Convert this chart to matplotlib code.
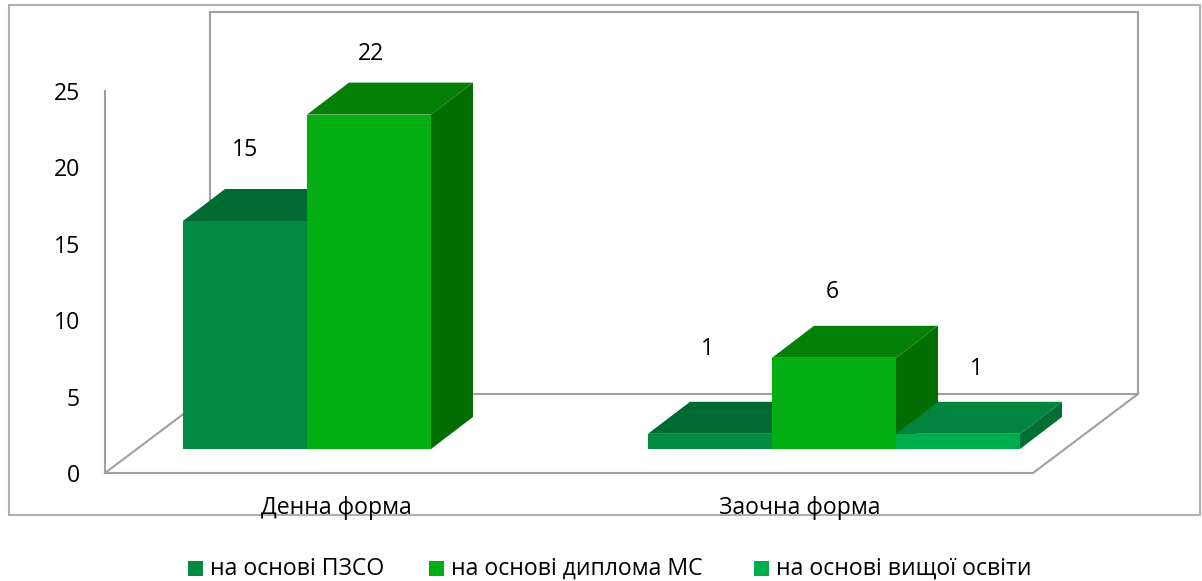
import matplotlib
matplotlib.use("Agg")
import matplotlib.pyplot as plt
from matplotlib.patches import Polygon, Rectangle

plt.rcParams['font.family'] = ['Open Sans', 'DejaVu Sans']

groups = ["Денна форма", "Заочна форма"]
series_names = ["на основі ПЗСО", "на основі диплома МС", "на основі вищої освіти"]
pzso = [15, 1]
dyplom = [22, 6]
vyshcha = [None, 1]
y_ticks = [0, 5, 10, 15, 20, 25]

front_colors = ["#028a40", "#03ae12", "#00ad4d"]
top_colors = ["#006a33", "#038005", "#00843e"]
side_colors = ["#005c2c", "#026d03", "#006f33"]
line_color = "#a0a0a0"

W, H = 1202, 581
# pixels of one category step / one value unit on the front plane
GROUP_PX = 465.0
UNIT_PX = 15.2
X0_PX = 369.0
BASE_PX = 449.0
BAR_W = 124.0 / GROUP_PX
DEPTH_X = 42.0 / GROUP_PX
DEPTH_Y = 32.0 / UNIT_PX
FONT = 16.6

fig = plt.figure(figsize=(W / 100, H / 100), dpi=100, facecolor="white")

# frame and walls are drawn in pixel coordinates
frame = fig.add_axes([0, 0, 1, 1], zorder=1)
frame.set_xlim(0, W)
frame.set_ylim(H, 0)
frame.axis("off")
frame.add_patch(Rectangle((9, 5), 1191, 510, fill=False, ec="#b0b0b0", lw=1.5))
frame.plot([105, 105, 1033, 1138, 1138, 210, 210], [91, 473, 473, 394, 12, 12, 394],
           color=line_color, lw=1.5, solid_joinstyle="miter")
frame.plot([105, 210, 1138], [473, 394, 394], color=line_color, lw=1.5)

# bars go through value / category scales
ax = fig.add_axes([0, 0, 1, 1], zorder=2)
ax.set_xlim(-X0_PX / GROUP_PX, (W - X0_PX) / GROUP_PX)
ax.set_ylim((BASE_PX - H) / UNIT_PX, BASE_PX / UNIT_PX)
ax.axis("off")
ax.patch.set_alpha(0)


def draw_bar(x, value, i, z):
    left, right = x - BAR_W / 2, x + BAR_W / 2
    front = [(left, 0), (right, 0), (right, value), (left, value)]
    top = [(left, value), (right, value), (right + DEPTH_X, value + DEPTH_Y), (left + DEPTH_X, value + DEPTH_Y)]
    side = [(right, 0), (right + DEPTH_X, DEPTH_Y), (right + DEPTH_X, value + DEPTH_Y), (right, value)]
    ax.add_patch(Polygon(side, fc=side_colors[i], ec="none", zorder=z))
    ax.add_patch(Polygon(top, fc=top_colors[i], ec="none", zorder=z))
    ax.add_patch(Polygon(front, fc=front_colors[i], ec="none", zorder=z + 0.5))


label_offsets = {(0, 0): (0, 71), (1, 0): (2, 61), (0, 1): (-2, 85), (1, 1): (-2, 66), (2, 1): (19, 65)}

# middle series sits on top of its neighbours
for i, vals in [(0, pzso), (2, vyshcha), (1, dyplom)]:
    for g, v in enumerate(vals):
        if v is None:
            continue
        x = g + (i - 1) * BAR_W
        draw_bar(x, v, i, 3 + i)
        ax.annotate(str(v), (x, v), xytext=label_offsets[(i, g)], textcoords="offset pixels",
                    ha="center", va="center", fontsize=FONT, color="black", zorder=10)

# value axis labels
for t in y_ticks:
    frame.text(80, 476 - 15.28 * t, str(t), ha="right", va="center", fontsize=FONT, color="black")

for g, name in enumerate(groups):
    frame.text(336 + g * 464, 508, name, ha="center", va="center", fontsize=FONT, color="black", zorder=5)

# legend
legend_x = [188, 429, 754]
for i, name in enumerate(series_names):
    frame.add_patch(Rectangle((legend_x[i], 561), 15, 15, fc=front_colors[i], ec="none"))
    frame.text(legend_x[i] + 22, 569, name, ha="left", va="center", fontsize=FONT, color="black")

fig.savefig("out.png", dpi=100)
